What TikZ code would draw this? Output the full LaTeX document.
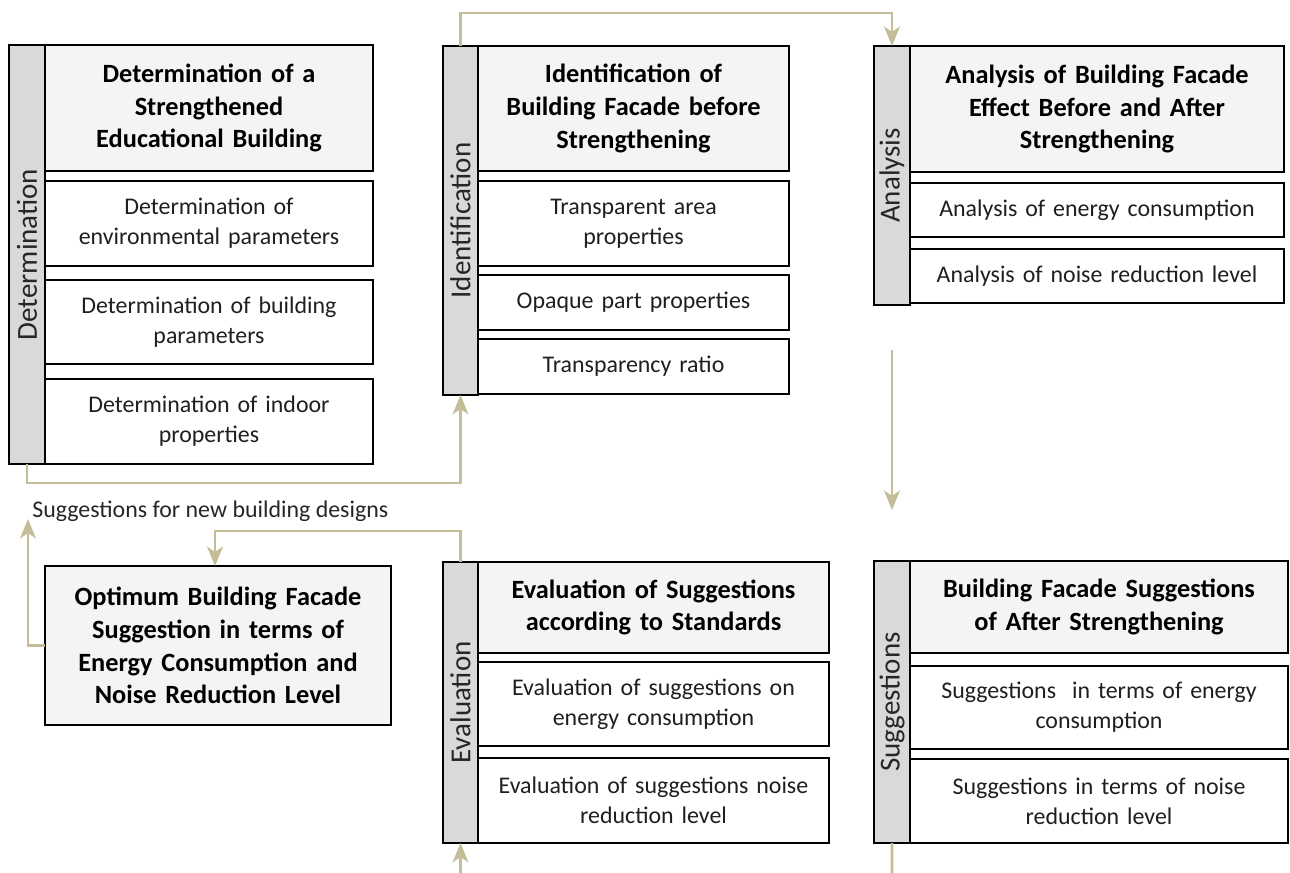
\documentclass[tikz,border=0pt]{standalone}
\usepackage{fontspec}
\setmainfont{Carlito}
\usetikzlibrary{arrows.meta, positioning, calc}

\definecolor{barGray}{RGB}{217,217,217}
\definecolor{headFill}{RGB}{243,244,246}
\definecolor{flowTan}{RGB}{196,189,151}

\begin{document}
\begin{tikzpicture}[
    x=0.2mm, y=-0.2mm,
    >={Stealth[length=11pt, width=9pt, inset=3pt]},
    % Define styles for the stage columns
    side_bar/.style={rectangle, draw, line width=1.1pt, fill=barGray, anchor=north west, inner sep=0pt, outer sep=0pt},
    side_lbl/.style={rotate=90, text=black!85, font=\fontsize{16.5}{20}\selectfont, inner sep=0pt},
    head_box/.style={rectangle, draw, line width=1.6pt, fill=headFill, anchor=north west, inner sep=0pt, outer sep=0pt, align=center, font=\fontsize{15}{18.7}\selectfont\bfseries},
    sub_box/.style={rectangle, draw, line width=1.1pt, fill=white, anchor=north west, inner sep=0pt, outer sep=0pt, align=center, text=black!88, font=\fontsize{13.6}{17}\selectfont},
    note/.style={text=black!85, font=\fontsize{13.6}{17}\selectfont, inner sep=0pt},
    flow/.style={->, draw=flowTan, line width=1.6pt},
    link/.style={draw=flowTan, line width=1.6pt}
]
    \useasboundingbox (0,0) rectangle (1290,873);

    % --- Determination Column ---
    \node[side_bar, minimum width=7.2mm, minimum height=83.8mm] (detbar) at (9,45) {};
    \node[side_lbl] (detlbl) at (detbar.center) {Determination};
    \node[head_box, text width=65.6mm, minimum height=25.2mm] (dethead) at (detbar.north east) {Determination of a\\ Strengthened\\ Educational Building};
    \node[sub_box, text width=65.6mm, minimum height=17mm] (detenv) at ($(dethead.south west) + (0, 10)$) {Determination of\\ environmental parameters};
    \node[sub_box, text width=65.6mm, minimum height=16.8mm] (detbld) at ($(detenv.south west) + (0, 14)$) {Determination of building\\ parameters};
    \node[sub_box, text width=65.6mm, minimum height=17mm] (detind) at ($(detbld.south west) + (0, 15)$) {Determination of indoor\\ properties};

    % --- Identification Column ---
    \node[side_bar, minimum width=7mm, minimum height=69.8mm] (idbar) at (443,46) {};
    \node[side_lbl] (idlbl) at (idbar.center) {Identification};
    \node[head_box, text width=62.2mm, minimum height=25mm] (idhead) at (idbar.north east) {Identification of\\ Building Facade before\\ Strengthening};
    \node[sub_box, text width=62.2mm, minimum height=17mm] (idtra) at ($(idhead.south west) + (0, 10)$) {Transparent area\\ properties};
    \node[sub_box, text width=62.2mm, minimum height=11mm] (idopq) at ($(idtra.south west) + (0, 9)$) {Opaque part properties};
    \node[sub_box, text width=62.2mm, minimum height=11mm] (idrat) at ($(idopq.south west) + (0, 9)$) {Transparency ratio};

    % --- Analysis Column ---
    \node[side_bar, minimum width=7.2mm, minimum height=51.8mm] (anabar) at (874,46) {};
    \node[side_lbl] (analbl) at (anabar.center) {Analysis};
    \node[head_box, text width=74.8mm, minimum height=25.2mm] (anahead) at (anabar.north east) {Analysis of Building Facade\\ Effect Before and After\\ Strengthening};
    \node[sub_box, text width=74.8mm, minimum height=10.8mm] (anaeng) at ($(anahead.south west) + (0, 11)$) {Analysis of energy consumption};
    \node[sub_box, text width=74.8mm, minimum height=10.8mm] (ananoi) at ($(anaeng.south west) + (0, 12)$) {Analysis of noise reduction level};

    % --- Optimum Result ---
    \node[head_box, text width=69.2mm, minimum height=31.8mm] (opt) at (45,566) {Optimum Building Facade\\ Suggestion in terms of\\ Energy Consumption and\\ Noise Reduction Level};
    \node[note, anchor=west] (newlbl) at (32,511) {Suggestions for new building designs};

    % --- Evaluation Column ---
    \node[side_bar, minimum width=7mm, minimum height=56.2mm] (evalbar) at (443,562) {};
    \node[side_lbl] (evallbl) at (evalbar.center) {Evaluation};
    \node[head_box, text width=70.2mm, minimum height=18.2mm] (evalhead) at (evalbar.north east) {Evaluation of Suggestions\\ according to Standards};
    \node[sub_box, text width=70.2mm, minimum height=16.8mm] (evaleng) at ($(evalhead.south west) + (0, 9)$) {Evaluation of suggestions on\\ energy consumption};
    \node[sub_box, text width=70.2mm, minimum height=17mm] (evalnoi) at ($(evaleng.south west) + (0, 12)$) {Evaluation of suggestions noise\\ reduction level};

    % --- Suggestions Column ---
    \node[side_bar, minimum width=7.2mm, minimum height=56.4mm] (suggbar) at (874,561) {};
    \node[side_lbl] (sugglbl) at (suggbar.center) {Suggestions};
    \node[head_box, text width=75.6mm, minimum height=18.4mm] (sugghead) at (suggbar.north east) {Building Facade Suggestions\\ of After Strengthening};
    \node[sub_box, text width=75.6mm, minimum height=16.6mm] (suggeng) at ($(sugghead.south west) + (0, 13)$) {Suggestions~ in terms of energy\\ consumption};
    \node[sub_box, text width=75.6mm, minimum height=16.8mm] (suggnoi) at ($(suggeng.south west) + (0, 10)$) {Suggestions in terms of noise\\ reduction level};

    % --- Flow Between Stages ---
    \coordinate (suggout) at (892,873);
    \coordinate (evalin) at (460.5,873);
    \coordinate (newtip) at (28,519);

    \draw[flow] (detbar.south) -- ++(0,19) -| (idbar.south);
    \draw[flow] (idbar.north) -- ++(0,-33) -| (anabar.north);
    \draw[flow] ([yshift=-9mm]anabar.south) -- ([yshift=10.2mm]suggbar.north);
    \draw[link] (suggbar.south) -- (suggout);
    \draw[flow] (evalin) -- (evalbar.south);
    \draw[flow] (evalbar.north) -- ++(0,-31) -| ([xshift=-0.6mm]opt.north);
    \draw[flow] (opt.west) -| (newtip);

\end{tikzpicture}
\end{document}
